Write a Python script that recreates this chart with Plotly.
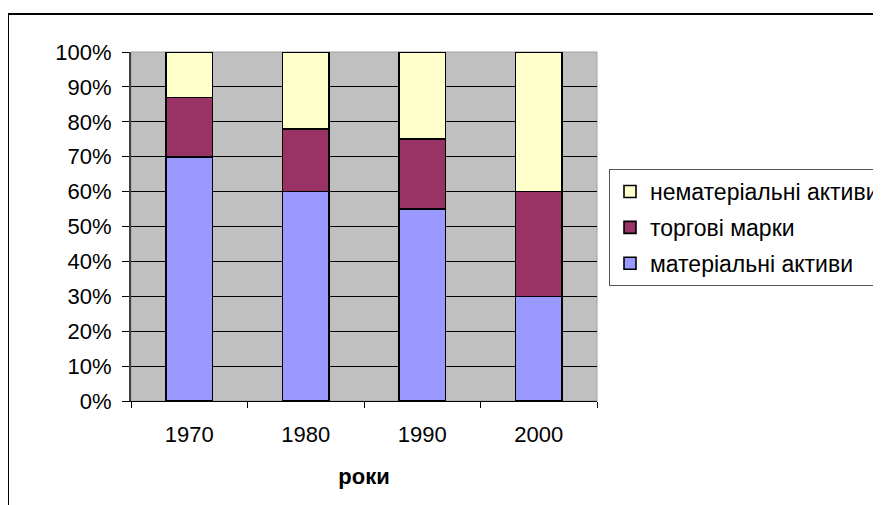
import plotly.graph_objects as go

years = ["1970", "1980", "1990", "2000"]
material = [70, 60, 55, 30]       # матеріальні активи
trademarks = [17, 18, 20, 30]     # торгові марки
intangible = [13, 22, 25, 40]     # нематеріальні активи
y_ticks = [0, 10, 20, 30, 40, 50, 60, 70, 80, 90, 100]
y_tick_text = [f"{v}%" for v in y_ticks]

series = [
    ("матеріальні активи", material, "#9999FF", 3),
    ("торгові марки", trademarks, "#993366", 2),
    ("нематеріальні активи", intangible, "#FFFFCC", 1),
]

FONT = "Liberation Sans, Arial, sans-serif"

fig = go.Figure()
for i, (name, vals, color, rank) in enumerate(series):
    fig.add_trace(go.Bar(
        x=years, y=vals, name=name, legendgroup=f"g{i}", legendrank=rank,
        marker=dict(color=color, line=dict(color="black", width=1.6)),
        width=0.4,
    ))

# page has an 8px body margin; geometry below is in page pixels
OFF = 8
L, R, T, B = 131, 597, 52, 401
W, H = 881 - OFF, 505 - OFF
def px(x):
    return (x - L) / (R - L)
def py(y):
    return (B - y) / (B - T)

fig.update_layout(
    width=W, height=H,
    margin=dict(l=L - OFF, r=W - (R - OFF), t=T - OFF, b=H - (B - OFF)),
    barmode="stack",
    bargap=0.6,
    paper_bgcolor="white",
    plot_bgcolor="#C0C0C0",
    font=dict(family=FONT, size=22, color="black"),
    legend=dict(
        xref="container", yref="container",
        x=(609 - OFF) / W, y=(H - (169 - OFF)) / H,
        xanchor="left", yanchor="top",
        traceorder="grouped", tracegroupgap=3,
        bgcolor="white", bordercolor="#555555", borderwidth=1,
        font=dict(family=FONT, size=23, color="black"),
    ),
    xaxis=dict(
        type="category", tickson="boundaries",
        ticks="outside", ticklen=6, tickcolor="black", tickwidth=1,
        showline=True, linecolor="black", linewidth=1,
        showgrid=False,
        tickfont=dict(size=22),
        ticklabelstandoff=14,
        title=dict(text="<b>роки</b>", font=dict(size=22), standoff=22),
    ),
    yaxis=dict(
        range=[0, 100], tickmode="array", tickvals=y_ticks, ticktext=y_tick_text,
        ticks="outside", ticklen=7, tickcolor="black", tickwidth=1,
        showline=True, linecolor="#404040", linewidth=2,
        showgrid=True, gridcolor="black", gridwidth=1,
        zeroline=False,
        tickfont=dict(size=22),
        ticklabelstandoff=6,
    ),
    shapes=[
        dict(type="rect", xref="paper", yref="paper",
             x0=0, x1=1, y0=0, y1=1,
             line=dict(color="#A0A0A0", width=1), layer="below"),
        dict(type="rect", xref="paper", yref="paper",
             x0=px(8), x1=px(900), y0=py(14), y1=py(530),
             line=dict(color="black", width=2), fillcolor="rgba(0,0,0,0)"),
    ],
)

fig.write_html("out.html")
